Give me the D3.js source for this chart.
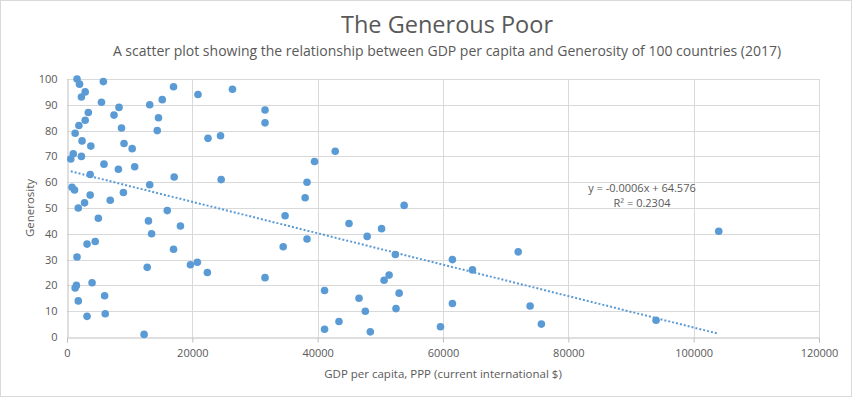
<!DOCTYPE html>
<html>
<head>
<meta charset="utf-8">
<script src="https://cdn.jsdelivr.net/npm/d3@7"></script>
<style>
  body { margin: 0; background: #fff; }
  text { font-family: "Open Sans", "DejaVu Sans", sans-serif; fill: #595959; }
</style>
</head>
<body>
<div id="chart"></div>
<script>
// GDP per capita (PPP) and generosity score
const gdp = [
  1600, 2000, 5800, 2900, 2300, 5500, 3400, 8300, 7500, 13200,
  15200, 17000, 20900, 2900, 1900, 1300, 8700, 14600, 14400, 2400,
  3800, 9100, 10400, 22500, 24500, 1000, 600, 2300, 5900, 8200,
  10800, 3700, 17100, 24600, 800, 1200, 13200, 3700, 9000, 6900,
  1800, 2800, 16000, 5000, 13000, 18100, 13500, 3200, 4500, 17000,
  1600, 12800, 19700, 20800, 22400, 1500, 1300, 4000, 6000, 1800,
  6100, 3200, 12300, 26400, 31600, 31600, 42800, 39500, 38300, 38000,
  34800, 45000, 50200, 47900, 38300, 34500, 52400, 31600, 51400, 50600,
  41100, 46600, 53000, 47600, 52500, 43400, 41100, 48400, 53800, 72000,
  61500, 64700, 61500, 73900, 59600, 75700, 104000, 94000
];
const generosity = [
  100, 98, 99, 95, 93, 91, 87, 89, 86, 90,
  92, 97, 94, 84, 82, 79, 81, 85, 80, 76,
  74, 75, 73, 77, 78, 71, 69, 70, 67, 65,
  66, 63, 62, 61, 58, 57, 59, 55, 56, 53,
  50, 52, 49, 46, 45, 43, 40, 36, 37, 34,
  31, 27, 28, 29, 25, 20, 19, 21, 16, 14,
  9, 8, 1, 96, 88, 83, 72, 68, 60, 54,
  47, 44, 42, 39, 38, 35, 32, 23, 24, 22,
  18, 15, 17, 10, 11, 6, 3, 2, 51, 33,
  30, 26, 13, 12, 4, 5, 41, 6.5
];
const xTicks = [0, 20000, 40000, 60000, 80000, 100000, 120000];
const yTicks = [0, 10, 20, 30, 40, 50, 60, 70, 80, 90, 100];
// linear trendline as shown in the chart (y = -0.0006x + 64.576)
const trendSlope = -0.000609;
const trendIntercept = 64.576;
const trendLabel = ["y = -0.0006x + 64.576", "R\u00b2 = 0.2304"];

const width = 852, height = 397;
const margin = {top: 79, right: 33, bottom: 60, left: 67};

const svg = d3.select("#chart").append("svg")
    .attr("width", width)
    .attr("height", height);

// chart border
svg.append("rect")
    .attr("x", 0.5).attr("y", 0.5)
    .attr("width", width - 1).attr("height", height - 1)
    .attr("fill", "#fff")
    .attr("stroke", "#d9d9d9");

const x = d3.scaleLinear().domain([0, 120000]).range([margin.left, width - margin.right]);
const y = d3.scaleLinear().domain([0, 100]).range([height - margin.bottom, margin.top]);

// gridlines
svg.append("g")
    .selectAll("line")
    .data(yTicks.slice(1))
    .join("line")
    .attr("x1", x(0)).attr("x2", x(120000))
    .attr("y1", d => Math.round(y(d)) + 0.5).attr("y2", d => Math.round(y(d)) + 0.5)
    .attr("stroke", "#d9d9d9");

svg.append("g")
    .selectAll("line")
    .data(xTicks.slice(1))
    .join("line")
    .attr("x1", d => Math.round(x(d)) + 0.5).attr("x2", d => Math.round(x(d)) + 0.5)
    .attr("y1", y(100)).attr("y2", y(0))
    .attr("stroke", "#d9d9d9");

// x axis
const xAxis = svg.append("g")
    .attr("transform", `translate(0,${Math.round(y(0)) + 0.5})`)
    .call(d3.axisBottom(x).tickValues(xTicks).tickFormat(d3.format("d")).tickSize(5).tickPadding(7));
xAxis.select(".domain").attr("stroke", "#bfbfbf");
xAxis.selectAll(".tick line").attr("stroke", "#bfbfbf");
xAxis.selectAll("text").attr("font-size", 11).attr("fill", "#595959");

// y axis
const yAxis = svg.append("g")
    .attr("transform", `translate(${Math.round(x(0)) + 0.5},0)`)
    .call(d3.axisLeft(y).tickValues(yTicks).tickSize(0).tickPadding(10));
yAxis.select(".domain").attr("stroke", "#bfbfbf");
yAxis.selectAll("text").attr("font-size", 11).attr("fill", "#595959");

// trendline, spanning the data range
const xExt = d3.extent(gdp);
svg.append("line")
    .attr("x1", x(xExt[0])).attr("y1", y(trendSlope * xExt[0] + trendIntercept))
    .attr("x2", x(xExt[1])).attr("y2", y(trendSlope * xExt[1] + trendIntercept))
    .attr("stroke", "#5b9bd5")
    .attr("stroke-width", 2)
    .attr("stroke-dasharray", "2,2");

// points
svg.append("g")
    .selectAll("circle")
    .data(d3.range(gdp.length))
    .join("circle")
    .attr("cx", i => x(gdp[i]))
    .attr("cy", i => y(generosity[i]))
    .attr("r", 3.8)
    .attr("fill", "#5b9bd5");

// trendline label
svg.append("g")
    .selectAll("text")
    .data(trendLabel)
    .join("text")
    .attr("x", 642)
    .attr("y", (d, i) => 192 + i * 14.5)
    .attr("text-anchor", "middle")
    .attr("font-size", 11)
    .text(d => d);

// titles
svg.append("text")
    .attr("x", 447).attr("y", 33)
    .attr("text-anchor", "middle")
    .attr("font-size", 23.5)
    .text("The Generous Poor");

svg.append("text")
    .attr("x", 447).attr("y", 56)
    .attr("text-anchor", "middle")
    .attr("font-size", 14)
    .text("A scatter plot showing the relationship between GDP per capita and Generosity of 100 countries (2017)");

svg.append("text")
    .attr("x", 443).attr("y", 378)
    .attr("text-anchor", "middle")
    .attr("font-size", 11.5)
    .text("GDP per capita, PPP (current international $)");

svg.append("text")
    .attr("transform", "translate(34,208) rotate(-90)")
    .attr("text-anchor", "middle")
    .attr("font-size", 11.5)
    .text("Generosity");
</script>
</body>
</html>
